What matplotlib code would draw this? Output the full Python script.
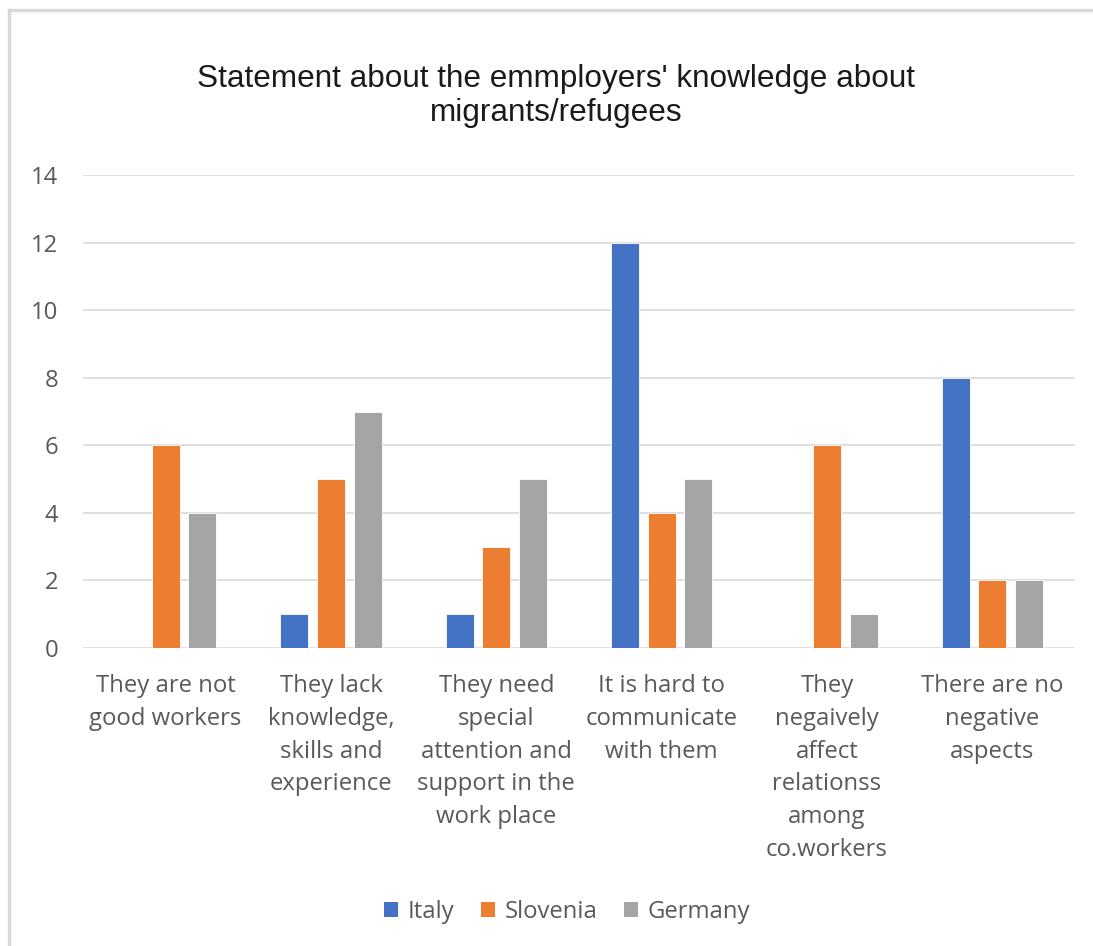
import numpy as np
import matplotlib
matplotlib.use("Agg")
import matplotlib.pyplot as plt
from matplotlib.lines import Line2D
from matplotlib.patches import Patch

# Survey answers per statement
categories = [
    "They are not\ngood workers",
    "They lack\nknowledge,\nskills and\nexperience",
    "They need\nspecial\nattention and\nsupport in the\nwork place",
    "It is hard to\ncommunicate\nwith them",
    "They\nnegaively\naffect\nrelationss\namong\nco.workers",
    "There are no\nnegative\naspects",
]
italy = [0, 1, 1, 12, 0, 8]
slovenia = [6, 5, 3, 4, 6, 2]
germany = [4, 7, 5, 5, 1, 2]

series = ["Italy", "Slovenia", "Germany"]
colors = ["#4472C4", "#ED7D31", "#A5A5A5"]
yticks = [0, 2, 4, 6, 8, 10, 12, 14]

text_color = "#595959"
grid_color = "#D9D9D9"
label_font = "Open Sans"
fs = 17.2

W, H = 1093, 946
fig = plt.figure(figsize=(W / 100, H / 100), dpi=100)
fig.patch.set_facecolor("white")

ax = fig.add_axes([83 / W, 1 - 648 / H, (1075 - 83) / W, (648 - 175) / H])

x = np.arange(len(categories))
bar_w = 0.17
step = 0.222
for i, (vals, col) in enumerate(zip([italy, slovenia, germany], colors)):
    ax.bar(x + (i - 1) * step, vals, width=bar_w, color=col, zorder=3,
           edgecolor="white", linewidth=0.6)

ax.set_xlim(-0.5, len(categories) - 0.5)
ax.set_ylim(0, 14)
ax.set_yticks(yticks)
ax.set_yticklabels([str(t) for t in yticks], fontsize=fs, color=text_color,
                   family=label_font)
ax.set_xticks(x)
ax.set_xticklabels(categories, fontsize=fs, color=text_color, family=label_font,
                   linespacing=1.48, va="top")
ax.tick_params(axis="both", length=0)
ax.tick_params(axis="y", pad=18)
ax.tick_params(axis="x", pad=19)
ax.grid(axis="y", color=grid_color, linewidth=1.2, zorder=0)
for s in ax.spines.values():
    s.set_visible(False)

fig.text(556 / W, 1 - 96 / H,
         "Statement about the emmployers' knowledge about\nmigrants/refugees",
         ha="center", va="center", fontsize=22.7, family="Liberation Sans",
         color="#1a1a1a", linespacing=1.2)

handles = [Patch(facecolor=c, edgecolor="none") for c in colors]
fig.legend(handles, series, loc="center", bbox_to_anchor=(567 / W, 1 - 912 / H),
           ncol=3, frameon=False, handlelength=0.6, handleheight=0.6,
           handletextpad=0.4, columnspacing=1.1,
           prop={"family": label_font, "size": fs}, labelcolor=text_color)

# outer chart border (top and left edges)
fig.add_artist(Line2D([9 / W, 1], [1 - 10 / H, 1 - 10 / H], transform=fig.transFigure,
                      color=grid_color, linewidth=2.4))
fig.add_artist(Line2D([9 / W, 9 / W], [0, 1 - 10 / H], transform=fig.transFigure,
                      color=grid_color, linewidth=2.4))

fig.savefig("out.png", dpi=100, facecolor="white")
